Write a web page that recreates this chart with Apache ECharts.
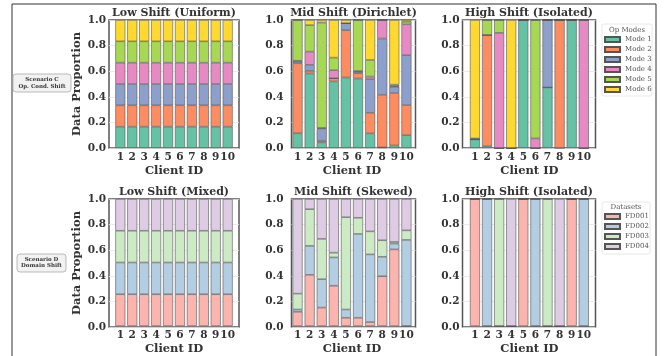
<!DOCTYPE html>
<html><head><meta charset="utf-8">
<script src="https://cdn.jsdelivr.net/npm/echarts@6/dist/echarts.min.js"></script>
<style>html,body{margin:0;padding:0;background:#fff}#c{width:667px;height:356px}</style>
</head><body><div id="c"></div>
<script>
// ---------- data ----------
const clients = ['1','2','3','4','5','6','7','8','9','10'];
const modeNames = ['Mode 1','Mode 2','Mode 3','Mode 4','Mode 5','Mode 6'];
const datasetNames = ['FD001','FD002','FD003','FD004'];
const panelTitles = ['Low Shift (Uniform)','Mid Shift (Dirichlet)','High Shift (Isolated)',
                     'Low Shift (Mixed)','Mid Shift (Skewed)','High Shift (Isolated)'];
const rowLabels = ['Scenario C\nOp. Cond. Shift','Scenario D\nDomain Shift'];

// Scenario C: one row per mode, one value per client
const lowUniform = [
  [0.1667,0.1667,0.1667,0.1667,0.1667,0.1667,0.1667,0.1667,0.1667,0.1667],
  [0.1667,0.1667,0.1667,0.1667,0.1667,0.1667,0.1667,0.1667,0.1667,0.1667],
  [0.1667,0.1667,0.1667,0.1667,0.1667,0.1667,0.1667,0.1667,0.1667,0.1667],
  [0.1667,0.1667,0.1667,0.1667,0.1667,0.1667,0.1667,0.1667,0.1667,0.1667],
  [0.1667,0.1667,0.1667,0.1667,0.1667,0.1667,0.1667,0.1667,0.1667,0.1667],
  [0.1665,0.1665,0.1665,0.1665,0.1665,0.1665,0.1665,0.1665,0.1665,0.1665]
];
const midDirichlet = [
  [0.115,0.582,0.044,0.520,0.551,0.543,0.114,0.005,0.020,0.100],
  [0.547,0.021,0.013,0.025,0.369,0.041,0.161,0.411,0.410,0.235],
  [0.015,0.047,0.096,0.000,0.055,0.013,0.263,0.439,0.048,0.390],
  [0.005,0.103,0.004,0.063,0.000,0.005,0.020,0.145,0.006,0.241],
  [0.318,0.207,0.823,0.098,0.000,0.398,0.130,0.000,0.011,0.021],
  [0.000,0.040,0.020,0.294,0.025,0.000,0.312,0.000,0.505,0.013]
];
const highIsolatedC = [
  [0.067,0.015,0,0,1,0,0.473,0,1,0],
  [0,0.868,0,0,0,0,0,1,0,0],
  [0,0,0,0,0,0,0.527,0,0,0],
  [0,0,0.9,0,0,0.075,0,0,0,1],
  [0.008,0.117,0.1,0,0,0.925,0,0,0,0],
  [0.925,0,0,1,0,0,0,0,0,0]
];
// Scenario D: one row per dataset
const lowMixed = [
  [0.25,0.25,0.25,0.25,0.25,0.25,0.25,0.25,0.25,0.25],
  [0.25,0.25,0.25,0.25,0.25,0.25,0.25,0.25,0.25,0.25],
  [0.25,0.25,0.25,0.25,0.25,0.25,0.25,0.25,0.25,0.25],
  [0.25,0.25,0.25,0.25,0.25,0.25,0.25,0.25,0.25,0.25]
];
const midSkewed = [
  [0.112,0.403,0.145,0.317,0.065,0.065,0.031,0.392,0.603,0.000],
  [0.018,0.228,0.224,0.223,0.065,0.660,0.533,0.153,0.046,0.678],
  [0.125,0.289,0.317,0.037,0.727,0.127,0.181,0.130,0.013,0.075],
  [0.745,0.080,0.314,0.423,0.143,0.148,0.255,0.325,0.338,0.247]
];
const highIsolatedD = [
  [1,0,0,0,1,0,0,0,1,0],
  [0,1,0,0,0,1,0,0,0,1],
  [0,0,1,0,0,0,1,0,0,0],
  [0,0,0,1,0,0,0,1,0,0]
];

// ---------- style ----------
const modeColors = ['#66c2a5','#fc8d62','#8da0cb','#e78ac3','#a6d854','#ffd92f'];
const dsColors = ['#fbb4ae','#b3cde3','#ccebc5','#decbe4'];
const SERIF = 'DejaVu Serif';
// outer frame per column, and the x-range (in category units) it covers
const cols = [
  {left:109, width:130, xmin:-0.95, xmax:9.95, labMargin:3},
  {left:291.5, width:124, xmin:-0.5, xmax:9.75, labMargin:8},
  {left:462.5, width:133, xmin:-1.03, xmax:9.97, labMargin:3}
];
const rows = [{top:20, height:128}, {top:199, height:128}];

const panels = [
  {data: lowUniform, names: modeNames, colors: modeColors},
  {data: midDirichlet, names: modeNames, colors: modeColors},
  {data: highIsolatedC, names: modeNames, colors: modeColors},
  {data: lowMixed, names: datasetNames, colors: dsColors},
  {data: midSkewed, names: datasetNames, colors: dsColors},
  {data: highIsolatedD, names: datasetNames, colors: dsColors}
];

const grid = [], xAxis = [], yAxis = [], series = [], title = [];
const txt = (size, bold) => ({fontFamily:SERIF, fontWeight: bold ? 'bold' : 'normal', fontSize:size, color:'#333'});
panels.forEach((p, k) => {
  const r = rows[Math.floor(k/3)], c = cols[k%3];
  const pitch = c.width / (c.xmax - c.xmin);
  const innerLeft = c.left + (-0.5 - c.xmin) * pitch;
  const oi = 2*k, ii = 2*k + 1;
  // outer grid: frame, y labels, grid lines
  grid.push({left:c.left, top:r.top, width:c.width, height:r.height,
    show:true, borderColor:'#555', borderWidth:1.5, backgroundColor:'#fff'});
  // inner grid: bars + category axis
  grid.push({left:innerLeft, top:r.top, width:10*pitch, height:r.height, show:false});
  xAxis.push({type:'value', gridIndex:oi, min:0, max:1, show:false});
  yAxis.push({type:'value', gridIndex:oi, min:0, max:1, interval:0.2,
    axisLine:{show:false}, axisTick:{show:false},
    splitLine:{show:true, lineStyle:{color:'#e6e6e6', width:0.8}},
    axisLabel:Object.assign(txt(10.5, true), {formatter: v => v.toFixed(1), margin:c.labMargin}),
    name: (k%3===0) ? 'Data Proportion' : '', nameLocation:'middle', nameGap:26,
    nameTextStyle:txt(11.5, true)});
  xAxis.push({type:'category', gridIndex:ii, data:clients, boundaryGap:true,
    axisLine:{show:false}, axisTick:{show:false}, splitLine:{show:false},
    axisLabel:Object.assign(txt(10.5, true), {margin:4, interval:0}),
    name:'Client ID', nameLocation:'middle', nameGap:17, nameTextStyle:txt(11.5, true)});
  yAxis.push({type:'value', gridIndex:ii, min:0, max:1, show:false, splitLine:{show:false}});
  title.push({text:panelTitles[k], left:c.left + c.width/2, top:r.top - 12, textAlign:'center',
    padding:0, textStyle:txt(11, true)});
  p.data.forEach((vals, s) => {
    series.push({type:'bar', name:p.names[s], xAxisIndex:ii, yAxisIndex:ii, stack:'p'+k,
      barWidth:10, data: vals,
      itemStyle:{color:p.colors[s], borderColor:'#555', borderWidth:0.6},
      emphasis:{disabled:true}});
  });
});

const legendCommon = {orient:'vertical', itemWidth:15, itemHeight:5, itemGap:2, padding:0,
  icon:'rect', selectedMode:false,
  textStyle:{fontFamily:SERIF, fontSize:7, color:'#555', lineHeight:8}};

const graphic = [
  {type:'rect', shape:{x:12, y:4, width:644, height:370}, style:{fill:'none', stroke:'#333', lineWidth:1}, silent:true},
  {type:'rect', shape:{x:602, y:24, width:50, height:72, r:2}, style:{fill:'#fff', stroke:'#e2e2e2', lineWidth:0.8}, z:-1},
  {type:'text', x:627, y:30, style:{text:'Op Modes', fontFamily:SERIF, fontSize:7, fill:'#555', align:'center', verticalAlign:'middle'}},
  {type:'rect', shape:{x:602, y:202, width:48, height:52, r:2}, style:{fill:'#fff', stroke:'#e2e2e2', lineWidth:0.8}, z:-1},
  {type:'text', x:626, y:207.5, style:{text:'Datasets', fontFamily:SERIF, fontSize:7, fill:'#555', align:'center', verticalAlign:'middle'}},
  {type:'rect', shape:{x:13, y:74, width:58, height:18, r:3}, style:{fill:'#f2f2f2', stroke:'#aaa', lineWidth:0.8}},
  {type:'text', x:42, y:83, style:{text:rowLabels[0], fontFamily:SERIF, fontWeight:'bold', fontSize:5.5, lineHeight:7, fill:'#333', align:'center', verticalAlign:'middle'}},
  {type:'rect', shape:{x:17, y:254, width:49, height:18, r:3}, style:{fill:'#f2f2f2', stroke:'#aaa', lineWidth:0.8}},
  {type:'text', x:41.5, y:262.5, style:{text:rowLabels[1], fontFamily:SERIF, fontWeight:'bold', fontSize:5.5, lineHeight:6.5, fill:'#333', align:'center', verticalAlign:'middle'}}
];

const chart = echarts.init(document.getElementById('c'), null, {renderer:'canvas'});
chart.setOption({
  animation:false,
  backgroundColor:'#fff',
  title, grid, xAxis, yAxis, series, graphic,
  legend:[
    Object.assign({}, legendCommon, {data:modeNames, left:604, top:35.5}),
    Object.assign({}, legendCommon, {data:datasetNames, left:604, top:212.5})
  ]
});
</script></body></html>
